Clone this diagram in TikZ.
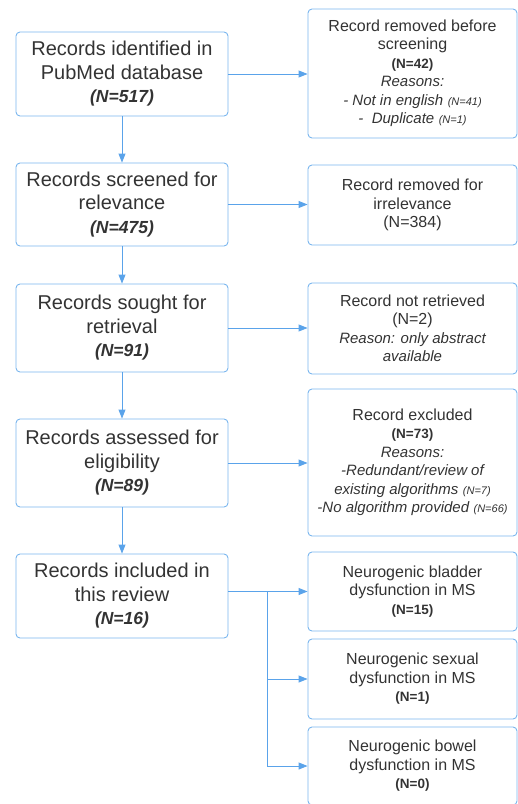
\documentclass[tikz,border=0pt]{standalone}
\usepackage{fontspec}
\setmainfont{Liberation Sans}
\usetikzlibrary{arrows.meta}
\definecolor{boxEdge}{HTML}{7AB6EE}
\definecolor{flowBlue}{HTML}{5AA3EA}
\definecolor{inkGray}{HTML}{333333}

\newcommand{\bigN}[1]{{\fontsize{17.5}{23.5}\selectfont\bfseries\itshape #1}}
\newcommand{\smallN}[1]{{\fontsize{13.5}{18}\selectfont\bfseries #1}}
\newcommand{\tinyN}[1]{{\fontsize{11}{13}\selectfont\itshape #1}}
\newcommand{\reason}[1]{{\fontsize{15}{18}\selectfont\itshape #1}}

\tikzset{
    stagebox/.style={draw=boxEdge, line width=0.9pt, rounded corners=4pt,
        text=inkGray, align=center, minimum width=212pt, inner sep=0pt,
        font=\fontsize{20}{23.5}\selectfont},
    notebox/.style={draw=boxEdge, line width=0.9pt, rounded corners=4pt,
        text=inkGray, align=center, minimum width=209pt, inner sep=0pt,
        font=\fontsize{16}{18.5}\selectfont},
    flow/.style={flowBlue, line width=0.9pt, -{Triangle[length=9pt,width=7pt]}},
}

\begin{document}
\begin{tikzpicture}[x=1pt, y=-1pt]
    \useasboundingbox (0,0) rectangle (518,804);

    % main stages
    \node[stagebox, minimum height=84pt] (ident) at (122,74)
        {Records identified in\\PubMed database\\\bigN{(N=517)}};
    \node[stagebox, minimum height=83pt] (screen) at (122,204.5)
        {Records screened for\\relevance\\\bigN{(N=475)}};
    \node[stagebox, minimum height=88pt] (sought) at (122,328)
        {Records sought for\\retrieval\\\bigN{(N=91)}};
    \node[stagebox, minimum height=88pt] (assess) at (122,463)
        {Records assessed for\\eligibility\\\bigN{(N=89)}};
    \node[stagebox, minimum height=84pt] (incl) at (122,596)
        {Records included in\\this review\\\bigN{(N=16)}};

    % side boxes
    \node[notebox, minimum height=129pt] (removed) at (412.5,73.5)
        {Record removed before\\screening\\\smallN{(N=42)}\\\reason{Reasons:}\\
         \reason{- Not in english} \tinyN{(N=41)}\\\reason{-\ \ Duplicate} \tinyN{(N=1)}};
    \node[notebox, minimum height=80pt] (irrel) at (412.5,205)
        {Record removed for\\irrelevance\\(N=384)};
    \node[notebox, minimum height=91pt] (notret) at (412.5,328.5)
        {Record not retrieved\\(N=2)\\\reason{Reason: only abstract}\\\reason{available}};
    \node[notebox, minimum height=147pt] (excl) at (412.5,462.5)
        {Record excluded\\\smallN{(N=73)}\\\reason{Reasons:}\\\reason{-Redundant/review of}\\
         \reason{existing algorithms} \tinyN{(N=7)}\\\reason{-No algorithm provided} \tinyN{(N=66)}};
    \node[notebox, minimum height=79pt] (bladder) at (412.5,591.5)
        {Neurogenic bladder\\dysfunction in MS\\\smallN{(N=15)}};
    \node[notebox, minimum height=80pt] (sexual) at (412.5,679)
        {Neurogenic sexual\\dysfunction in MS\\\smallN{(N=1)}};
    \node[notebox, minimum height=78pt] (bowel) at (412.5,766)
        {Neurogenic bowel\\dysfunction in MS\\\smallN{(N=0)}};

    % downward flow
    \draw[flow] (ident) -- (screen);
    \draw[flow] (screen) -- (sought);
    \draw[flow] (sought) -- (assess);
    \draw[flow] (assess) -- (incl);

    % exclusions
    \draw[flow] (ident.east) -- (ident.east -| removed.west);
    \draw[flow] (screen.east) -- (screen.east -| irrel.west);
    \draw[flow] (sought.east) -- (sought.east -| notret.west);
    \draw[flow] (assess.east) -- (assess.east -| excl.west);

    % split of included records
    \coordinate (fork) at (267,591.5);
    \draw[flow] (incl.east |- bladder) -- (bladder.west);
    \draw[flow] (fork) |- (sexual.west);
    \draw[flow] (fork) |- (bowel.west);
\end{tikzpicture}
\end{document}
